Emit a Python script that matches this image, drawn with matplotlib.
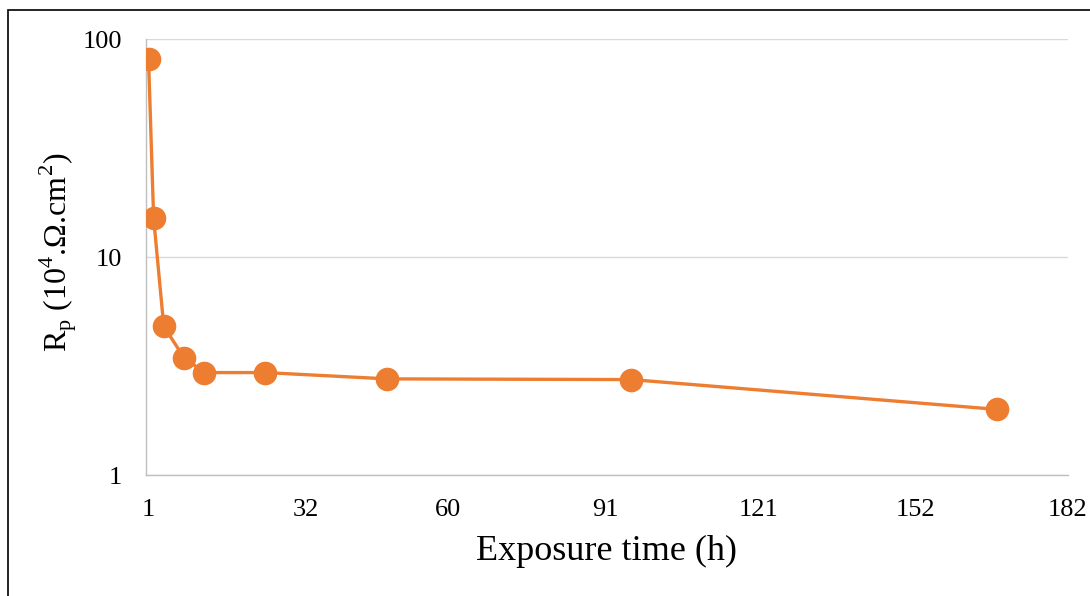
import matplotlib
matplotlib.use("Agg")
import matplotlib.pyplot as plt
from matplotlib.patches import Rectangle

# data
hours = [1, 2, 4, 8, 12, 24, 48, 96, 168]
rp = [81, 15.1, 4.8, 3.45, 2.95, 2.95, 2.76, 2.74, 2.0]
xticks = [1, 32, 60, 91, 121, 152, 182]
yticks = [1, 10, 100]

orange = '#ED7D31'

plt.rcParams['font.family'] = ['Liberation Serif', 'DejaVu Serif']
plt.rcParams['mathtext.fontset'] = 'custom'
plt.rcParams['mathtext.rm'] = 'Liberation Serif'

fig = plt.figure(figsize=(10.9, 5.96), dpi=100)
W, H = 1090, 596
ax = fig.add_axes([146 / W, 1 - 475 / H, (1068 - 146) / W, (475 - 39) / H])

ax.plot(hours, rp, color=orange, lw=2.4, marker='o', ms=16, zorder=3)

ax.set_yscale('log')
ax.set_ylim(1, 100)
ax.set_xlim(0.5, 182)
ax.set_xticks(xticks)
ax.set_xticklabels([str(t) for t in xticks])
ax.set_yticks(yticks)
ax.set_yticklabels(['1', '10', '100'])
ax.minorticks_off()
ax.tick_params(length=0, labelsize=19)
ax.tick_params(axis='x', pad=17)
ax.tick_params(axis='y', pad=17)

ax.grid(axis='y', color='#D9D9D9', lw=1)
ax.set_axisbelow(True)
for s in ['top', 'right']:
    ax.spines[s].set_visible(False)
for s in ['left', 'bottom']:
    ax.spines[s].set_color('#BFBFBF')
    ax.spines[s].set_linewidth(1)

fig.text(607 / W, 1 - 551 / H, 'Exposure time (h)', fontsize=26,
         ha='center', va='center')
fig.text(58 / W, 1 - 252 / H,
         r'R$_{\mathregular{p}}$ (10$^{\mathregular{4}}$.Ω.cm$^{\mathregular{2}}$)',
         fontsize=23, rotation=90, ha='center', va='center')

# frame around the figure (cut off at right and bottom)
fig.patches.append(Rectangle((8 / W, -0.1), 1.2, 1 - 10 / H + 0.1,
                             transform=fig.transFigure, fill=False,
                             ec='black', lw=1.2))

fig.savefig('out.png', dpi=100)
